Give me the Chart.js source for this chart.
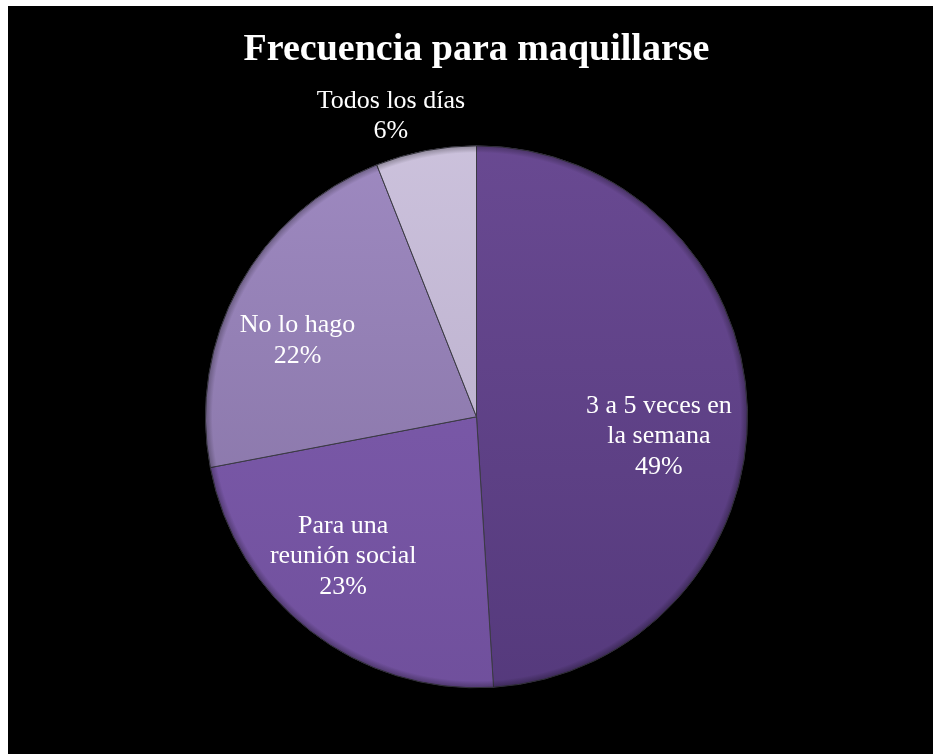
<!DOCTYPE html>
<html>
<head>
<meta charset="utf-8">
<title>Frecuencia para maquillarse</title>
<script src="https://cdn.jsdelivr.net/npm/chart.js@4/dist/chart.umd.min.js"></script>
<style>
  html, body { margin: 0; padding: 0; background: #fff; }
  #wrap { width: 933px; height: 754px; }
</style>
</head>
<body>
<div id="wrap"><canvas id="pieChart" width="933" height="754"></canvas></div>
<script>
// survey answers, clockwise from 12 o'clock
const categories = [
  ['3 a 5 veces en', 'la semana'],
  ['Para una', 'reunión social'],
  ['No lo hago'],
  ['Todos los días']
];
const shares = [49, 23, 22, 6];

// top / bottom shade for each slice
const sliceTop = ['#6b4b94', '#8361b3', '#a18cc4', '#cec4de'];
const sliceBottom = ['#53387a', '#6e4e9a', '#7f6d9d', '#b1a5c4'];

// where each label sits: fraction of the radius and a small turn off the slice middle (deg)
const labelDist = [0.677, 0.712, 0.718, 1.153];
const labelTurn = [7.9, 5.9, -5.7, -5.1];

const serif = '"Liberation Serif", "Times New Roman", Times, serif';

const backdrop = {
  id: 'backdrop',
  beforeDraw(chart) {
    const { ctx, width, height } = chart;
    ctx.save();
    ctx.fillStyle = '#fff';
    ctx.fillRect(0, 0, width, height);
    ctx.fillStyle = '#000';
    ctx.fillRect(8, 6, width - 8, height - 6);
    ctx.restore();
  }
};

// darkens the rim a little so the disc looks bevelled
const rimShade = {
  id: 'rimShade',
  afterDatasetsDraw(chart) {
    const arc = chart.getDatasetMeta(0).data[0];
    if (!arc) return;
    const { ctx } = chart;
    const { x, y, outerRadius } = arc.getProps(['x', 'y', 'outerRadius'], true);
    ctx.save();
    const g = ctx.createRadialGradient(x, y, outerRadius - 7, x, y, outerRadius);
    g.addColorStop(0, 'rgba(0,0,0,0)');
    g.addColorStop(1, 'rgba(0,0,0,0.3)');
    ctx.beginPath();
    ctx.arc(x, y, outerRadius, 0, Math.PI * 2);
    ctx.fillStyle = g;
    ctx.fill();
    ctx.restore();
  }
};

const sliceLabels = {
  id: 'sliceLabels',
  afterDatasetsDraw(chart) {
    const { ctx } = chart;
    const meta = chart.getDatasetMeta(0);
    const values = chart.data.datasets[0].data;
    ctx.save();
    ctx.fillStyle = '#fff';
    ctx.font = 'normal 400 26px ' + serif;
    ctx.textAlign = 'center';
    ctx.textBaseline = 'middle';
    const lineGap = 30.5;
    meta.data.forEach((arc, i) => {
      const p = arc.getProps(['x', 'y', 'startAngle', 'endAngle', 'outerRadius'], true);
      const mid = (p.startAngle + p.endAngle) / 2 + labelTurn[i] * Math.PI / 180;
      const d = p.outerRadius * labelDist[i];
      const cx = p.x + Math.cos(mid) * d;
      const cy = p.y + Math.sin(mid) * d;
      const lines = chart.data.labels[i].concat([values[i] + '%']);
      const y0 = cy - (lines.length - 1) * lineGap / 2;
      lines.forEach((t, k) => ctx.fillText(t, cx, y0 + k * lineGap));
    });
    ctx.restore();
  }
};

function sliceFill(context) {
  const i = context.dataIndex;
  const area = context.chart.chartArea;
  if (!area) return sliceTop[i];
  const g = context.chart.ctx.createLinearGradient(0, area.top, 0, area.bottom);
  g.addColorStop(0, sliceTop[i]);
  g.addColorStop(1, sliceBottom[i]);
  return g;
}

function drawChart() {
  new Chart(document.getElementById('pieChart'), {
    type: 'pie',
    data: {
      labels: categories,
      datasets: [{
        data: shares,
        backgroundColor: sliceFill,
        borderColor: '#3b3a44',
        borderWidth: 1,
        hoverOffset: 0
      }]
    },
    options: {
      responsive: false,
      animation: false,
      radius: 271,
      layout: { padding: { left: 20, right: 0, top: 0, bottom: 2 } },
      plugins: {
        legend: { display: false },
        tooltip: { enabled: false },
        title: {
          display: true,
          text: 'Frecuencia para maquillarse',
          color: '#fff',
          font: { family: serif, size: 38, weight: 'bold' },
          padding: { top: 27, bottom: 9 }
        }
      }
    },
    plugins: [backdrop, rimShade, sliceLabels]
  });
}

// make sure the serif faces are ready before the canvas is painted
Promise.all([
  document.fonts.load('26px "Liberation Serif"'),
  document.fonts.load('bold 38px "Liberation Serif"')
]).then(drawChart, drawChart);
</script>
</body>
</html>
